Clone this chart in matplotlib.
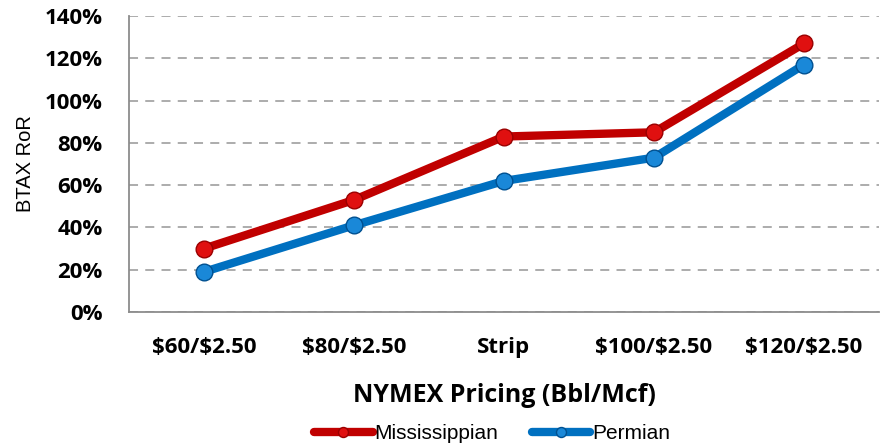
import numpy as np
import matplotlib.pyplot as plt

categories = [r"\$60/\$2.50", r"\$80/\$2.50", "Strip", r"\$100/\$2.50", r"\$120/\$2.50"]
mississippian = [30, 53, 83, 85, 127]
permian = [19, 41, 62, 73, 117]
y_ticks = [0, 20, 40, 60, 80, 100, 120, 140]

red = "#C00000"
blue = "#0070C0"

fig = plt.figure(figsize=(8.87, 4.46), dpi=100)
ax = fig.add_axes([0.1454, 0.3004, 0.8456, 0.6637])

x = np.arange(len(categories))
ax.plot(x, mississippian, color=red, lw=6, marker="o", ms=12,
        mfc="#E01010", mec="#9A0000", mew=1, label="Mississippian",
        solid_capstyle="round", zorder=3)
ax.plot(x, permian, color=blue, lw=6, marker="o", ms=12,
        mfc="#1A88D8", mec="#005090", mew=1, label="Permian",
        solid_capstyle="round", zorder=3)

ax.set_xlim(-0.5, len(categories) - 0.5)
ax.set_ylim(0, 140)
ax.set_yticks(y_ticks)
ax.set_yticklabels([f"{v}%" for v in y_ticks],
                   fontdict=dict(family="Open Sans", weight="bold", size=16))
ax.set_xticks(x)
ax.set_xticklabels(categories,
                   fontdict=dict(family="Open Sans", weight="bold", size=16))
ax.tick_params(axis="y", length=0, pad=19)
ax.tick_params(axis="x", length=0, pad=18)

ax.grid(axis="y", color="#A6A6A6", ls=(0, (5, 4)), lw=1.3)
ax.set_axisbelow(True)
for s in ["top", "right"]:
    ax.spines[s].set_visible(False)
for s in ["left", "bottom"]:
    ax.spines[s].set_color("#8C8C8C")
    ax.spines[s].set_linewidth(1.3)

ax.set_xlabel("NYMEX Pricing (Bbl/Mcf)", family="Open Sans", weight="bold",
              size=18, labelpad=18)
ax.set_ylabel("BTAX RoR", family="Liberation Sans", size=14.5, labelpad=7)

fig.legend(loc="lower center", bbox_to_anchor=(0.555, -0.035), ncol=2,
           frameon=False, prop=dict(family="Liberation Sans", size=15),
           handlelength=2.8, handletextpad=0.1, columnspacing=1.6,
           markerscale=0.6)

fig.savefig("out.png", dpi=100)
